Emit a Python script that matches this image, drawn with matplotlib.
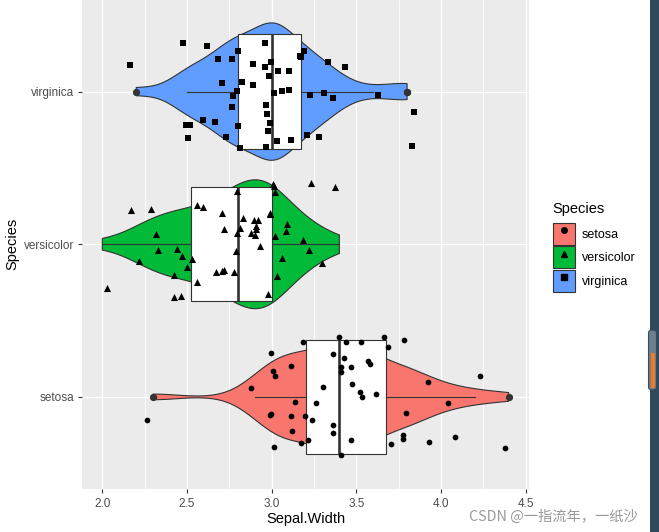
import numpy as np
import matplotlib
matplotlib.use("Agg")
import matplotlib.pyplot as plt
from matplotlib.lines import Line2D
from matplotlib.patches import Patch, Rectangle, FancyBboxPatch

plt.rcParams["font.family"] = ["Liberation Sans", "DejaVu Sans"]

species = ["setosa", "versicolor", "virginica"]
fills = ["#F8766D", "#00BA38", "#619CFF"]
markers = ["o", "^", "s"]
marker_sizes = [17, 26, 19]

# iris Sepal.Width per species
setosa_width = [3.5, 3.0, 3.2, 3.1, 3.6, 3.9, 3.4, 3.4, 2.9, 3.1, 3.7, 3.4, 3.0, 3.0, 4.0,
                4.4, 3.9, 3.5, 3.8, 3.8, 3.4, 3.7, 3.6, 3.3, 3.4, 3.0, 3.4, 3.5, 3.4, 3.2,
                3.1, 3.4, 4.1, 4.2, 3.1, 3.2, 3.5, 3.6, 3.0, 3.4, 3.5, 2.3, 3.2, 3.5, 3.8,
                3.0, 3.8, 3.2, 3.7, 3.3]
versicolor_width = [3.2, 3.2, 3.1, 2.3, 2.8, 2.8, 3.3, 2.4, 2.9, 2.7, 2.0, 3.0, 2.2, 2.9, 2.9,
                    3.1, 3.0, 2.7, 2.2, 2.5, 3.2, 2.8, 2.5, 2.8, 2.9, 3.0, 2.8, 3.0, 2.9, 2.6,
                    2.4, 2.4, 2.7, 2.7, 3.0, 3.4, 3.1, 2.3, 3.0, 2.5, 2.6, 3.0, 2.6, 2.3, 2.7,
                    3.0, 2.9, 2.9, 2.5, 2.8]
virginica_width = [3.3, 2.7, 3.0, 2.9, 3.0, 3.0, 2.5, 2.9, 2.5, 3.6, 3.2, 2.7, 3.0, 2.5, 2.8,
                   3.2, 3.0, 3.8, 2.6, 2.2, 3.2, 2.8, 2.8, 2.7, 3.3, 3.2, 2.8, 3.0, 2.8, 3.0,
                   2.8, 3.8, 2.8, 2.8, 2.6, 3.0, 3.4, 3.1, 3.0, 3.1, 3.1, 3.1, 2.7, 3.2, 3.3,
                   3.0, 2.5, 3.0, 3.4, 3.0]

# jittered points as they sit in the picture: x value and offset from the species line
setosa_jit_x = [2.265, 2.879, 2.997, 3.009, 3.021, 3.115, 3.139, 2.989, 2.997, 3.115,
                3.121, 3.015, 3.174, 3.198, 3.215, 3.239, 3.263, 3.304, 3.188, 3.363,
                3.398, 3.410, 3.410, 3.428, 3.440, 3.471, 3.477, 3.522, 3.534, 3.528,
                3.571, 3.583, 3.617, 3.664, 3.687, 3.363, 3.363, 3.410, 3.471, 3.705,
                3.776, 3.776, 3.782, 3.794, 3.923, 3.929, 4.041, 4.085, 4.232, 4.376]
setosa_jit_dy = [-0.149, 0.059, 0.289, 0.171, 0.138, 0.204, -0.031, -0.116, -0.110, -0.125,
                 -0.224, -0.327, -0.303, -0.125, -0.281, -0.149, -0.039, 0.066, 0.362, 0.279,
                 0.390, 0.197, 0.164, 0.257, 0.362, 0.197, 0.086, 0.033, 0.000, 0.362,
                 0.237, 0.217, 0.020, 0.395, 0.329, -0.184, -0.237, -0.382, -0.283, -0.309,
                 -0.250, -0.276, 0.375, -0.105, 0.099, -0.296, -0.039, -0.263, 0.138, -0.336]

versicolor_jit_x = [2.169, 2.287, 2.028, 2.315, 2.326, 2.216, 2.441, 2.470, 2.503, 2.423,
                    2.423, 2.462, 2.527, 2.562, 2.562, 2.592, 2.704, 2.720, 2.669, 2.708,
                    2.720, 2.775, 2.787, 2.793, 2.793, 2.816, 2.828, 2.897, 2.922, 2.907,
                    2.907, 2.877, 2.903, 2.930, 3.009, 3.013, 3.019, 2.993, 2.993, 3.019,
                    2.981, 3.030, 3.064, 3.084, 3.093, 3.188, 3.223, 3.231, 3.377, 3.300]
versicolor_jit_dy = [0.224, 0.232, -0.289, 0.066, -0.037, -0.110, -0.033, -0.079, -0.151, -0.200,
                     -0.344, -0.342, -0.094, -0.250, 0.257, 0.243, 0.204, 0.099, -0.184, -0.175,
                     -0.169, -0.184, -0.046, 0.072, 0.349, 0.105, 0.171, 0.158, 0.158, 0.118,
                     0.099, 0.072, 0.059, -0.013, 0.397, 0.382, 0.342, 0.204, 0.195, 0.053,
                     -0.329, -0.211, -0.092, 0.086, 0.132, 0.026, -0.039, 0.401, 0.375, -0.125]

virginica_jit_x = [2.478, 2.619, 2.165, 2.684, 2.767, 2.802, 2.962, 2.891, 2.962, 2.997,
                   2.985, 3.038, 3.101, 3.190, 3.170, 3.174, 3.333, 3.434, 2.708, 2.826,
                   2.891, 2.793, 2.773, 3.015, 3.062, 3.103, 3.227, 3.310, 3.363, 3.628,
                   2.767, 2.968, 2.973, 2.991, 2.981, 2.596, 2.663, 2.494, 2.517, 2.507,
                   2.732, 2.802, 2.814, 2.968, 3.032, 3.117, 3.209, 3.280, 3.839, 3.829]
virginica_jit_dy = [0.316, 0.300, 0.171, 0.213, 0.211, 0.263, 0.316, 0.178, 0.158, 0.191,
                    0.099, 0.132, 0.132, 0.263, 0.230, 0.224, 0.191, 0.164, 0.059, 0.066,
                    0.046, 0.007, -0.026, -0.007, 0.007, 0.011, -0.020, -0.007, -0.039, -0.020,
                    -0.099, -0.090, -0.145, -0.204, -0.257, -0.184, -0.197, -0.217, -0.217, -0.303,
                    -0.296, -0.224, -0.368, -0.362, -0.322, -0.316, -0.283, -0.298, -0.132, -0.355]

widths = [setosa_width, versicolor_width, virginica_width]
jit_x = [setosa_jit_x, versicolor_jit_x, virginica_jit_x]
jit_dy = [setosa_jit_dy, versicolor_jit_dy, virginica_jit_dy]


def bw_nrd0(x):
    x = np.asarray(x, float)
    q75, q25 = np.percentile(x, [75, 25])
    return 0.9 * min(x.std(ddof=1), (q75 - q25) / 1.34) * len(x) ** -0.2


def density(x, grid):
    x = np.asarray(x, float)
    bw = bw_nrd0(x)
    z = (grid[:, None] - x[None, :]) / bw
    return np.exp(-0.5 * z ** 2).sum(1) / (len(x) * bw * np.sqrt(2 * np.pi))


fig = plt.figure(figsize=(6.59, 5.32), dpi=100)
ax = fig.add_axes([82 / 659, 1 - 488.5 / 532, 447 / 659, 488.5 / 532])
ax.set_facecolor("#EBEBEB")
for s in ax.spines.values():
    s.set_visible(False)

# violins, scale = "area": one common max across groups
grids = [np.linspace(min(w), max(w), 512) for w in widths]
dens = [density(w, g) for w, g in zip(widths, grids)]
dmax = max(d.max() for d in dens)
for i, (g, d) in enumerate(zip(grids, dens)):
    half = 0.45 * d / dmax
    ax.fill(np.r_[g, g[::-1]], (i + 1) + np.r_[half, -half[::-1]],
            facecolor=fills[i], edgecolor="#333333", lw=0.8, zorder=2)

ax.boxplot(widths, positions=[1, 2, 3], widths=0.75, orientation="horizontal",
           whis=1.5, showcaps=False, patch_artist=True, manage_ticks=False, zorder=3,
           boxprops=dict(facecolor="white", edgecolor="#333333", lw=0.8),
           whiskerprops=dict(color="#333333", lw=0.8),
           medianprops=dict(color="#333333", lw=1.9),
           flierprops=dict(marker="o", markerfacecolor="#333333",
                           markeredgecolor="#333333", markersize=4.2))

for i in range(3):
    ax.scatter(jit_x[i], np.asarray(jit_dy[i]) + (i + 1), marker=markers[i],
               s=marker_sizes[i], color="black", linewidths=0, zorder=4)

ax.set_xlim(1.88, 4.52)
ax.set_ylim(0.4, 3.6)
ax.set_xticks([2.0, 2.5, 3.0, 3.5, 4.0, 4.5])
ax.set_xticks([2.25, 2.75, 3.25, 3.75, 4.25], minor=True)
ax.set_yticks([1, 2, 3])
ax.set_yticklabels(species)
ax.grid(which="major", color="white", lw=1.0, zorder=0)
ax.grid(which="minor", axis="x", color="white", lw=0.55, zorder=0)
ax.set_axisbelow(True)
ax.tick_params(which="major", length=3, width=0.8, color="#333333",
               labelsize=8.5, labelcolor="#4D4D4D", pad=2.5)
ax.tick_params(axis="x", which="major", pad=4)
ax.tick_params(which="minor", length=0)
ax.set_xlabel("Sepal.Width", fontsize=10.5, labelpad=1.5)
ax.set_ylabel("Species", fontsize=10.5, labelpad=3)

# legend: title placed on its own so the gap to the keys can match
fig.text(552 / 659, 1 - 209 / 532, "Species", fontsize=10.5, va="center", ha="left")
handles = [(Patch(facecolor=fills[i], edgecolor="#333333", lw=0.8),
            Line2D([], [], marker=markers[i], color="black", ls="none", markersize=4))
           for i in range(3)]
fig.legend(handles, species, loc="upper left", bbox_to_anchor=(547 / 659, 1 - 216.5 / 532),
           frameon=False, fontsize=9,
           handlelength=1.76, handleheight=2.33, handletextpad=0.5, labelspacing=0.12,
           borderpad=0)

# screenshot scrollbar and watermark
fig.add_artist(Rectangle((650 / 659, 0), 9 / 659, 1, transform=fig.transFigure,
                         facecolor="#2F485C", edgecolor="none"))
fig.add_artist(FancyBboxPatch((648.5 / 659, 1 - 390 / 532), 8 / 659, 60 / 532,
                              boxstyle="round,pad=0,rounding_size=0.006",
                              transform=fig.transFigure, facecolor="#6F7E8C",
                              edgecolor="#3A4A58", lw=0.8))
fig.add_artist(Rectangle((651.2 / 659, 1 - 388 / 532), 4 / 659, 35 / 532,
                         transform=fig.transFigure, facecolor="#F07A22", edgecolor="none"))
fig.text(469 / 659, 1 - 517 / 532, "CSDN @一指流年，一纸沙", fontsize=10.3, color="#9A9A9A",
         va="center", ha="left", family=["Noto Sans CJK SC", "DejaVu Sans"])

fig.savefig("out.png", dpi=100)
